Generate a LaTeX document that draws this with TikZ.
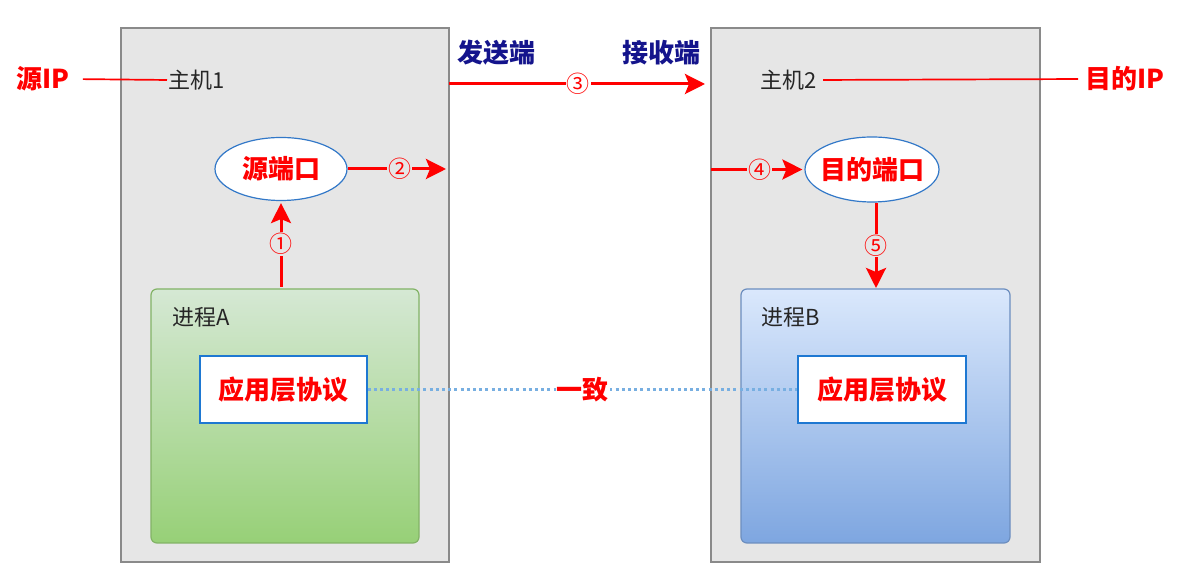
\documentclass[tikz,border=0pt]{standalone}
\usepackage{fontspec}
\setmainfont{Noto Sans CJK SC}
\usetikzlibrary{shapes.geometric,arrows.meta}

\definecolor{hostfill}{HTML}{E6E6E6}
\definecolor{hostdraw}{HTML}{8A8A8A}
\definecolor{navytext}{RGB}{20,20,140}
\definecolor{portdraw}{RGB}{50,120,200}
\definecolor{protodraw}{RGB}{30,120,210}
\definecolor{greentop}{HTML}{D5E8D4}
\definecolor{greenbot}{HTML}{97D077}
\definecolor{greendraw}{HTML}{82B366}
\definecolor{bluetop}{HTML}{DAE8FC}
\definecolor{bluebot}{HTML}{7EA6E0}
\definecolor{bluedraw}{HTML}{6C8EBF}
\definecolor{dotline}{RGB}{120,175,225}

\tikzset{
  hostbox/.style={draw=hostdraw, fill=hostfill, line width=0.6pt, inner sep=0pt},
  procbox/.style={rounded corners=3pt, line width=0.6pt, inner sep=0pt},
  protobox/.style={draw=protodraw, fill=white, line width=0.6pt, inner sep=0pt,
    text=red, font=\bfseries\fontsize{13}{15}\selectfont},
  portnode/.style={ellipse, draw=portdraw, fill=white, line width=0.6pt,
    inner xsep=-5pt, inner ysep=0pt,
    text=red, font=\bfseries\fontsize{13}{15}\selectfont},
  plain/.style={font=\fontsize{11}{12}\selectfont, text=black!85, inner sep=0pt},
  redlabel/.style={font=\bfseries\fontsize{13}{15}\selectfont, text=red, inner sep=0pt},
  navylabel/.style={font=\bfseries\fontsize{13}{15}\selectfont, text=navytext, inner sep=0pt},
  flow/.style={draw=red, line width=1.5pt, -{Stealth[length=10pt, width=10pt, inset=2pt]}},
  iplink/.style={draw=red, line width=0.85pt},
  stepnum/.style={font=\fontsize{11.5}{12}\selectfont, text=red, inner sep=0.5pt},
  samedots/.style={draw=dotline, line width=1.2pt, dash pattern=on 1.5pt off 1.6pt},
}

\begin{document}
\begin{tikzpicture}[x=0.5pt, y=-0.5pt]
\useasboundingbox (0,0) rectangle (1179,576);

% the two hosts
\node[hostbox, minimum width=164pt, minimum height=267pt] (h1) at (285,295) {};
\node[hostbox, minimum width=164.5pt, minimum height=267pt] (h2) at (875.5,295) {};

% processes with their gradient fills
\node[procbox, draw=greendraw, top color=greentop, bottom color=greenbot,
      minimum width=134pt, minimum height=127pt] (pa) at (285,416) {};
\node[procbox, draw=bluedraw, top color=bluetop, bottom color=bluebot,
      minimum width=134.5pt, minimum height=127pt] (pb) at (875.5,416) {};

\node[plain, anchor=west] (pal) at (172,317) {进程A};
\node[plain, anchor=west] (pbl) at (761,317) {进程B};

% application layer protocol boxes
\node[protobox, minimum width=83.5pt, minimum height=33.5pt] (proa) at (283.5,389.5) {应用层协议};
\node[protobox, minimum width=84pt, minimum height=33.5pt] (prob) at (882,389.5) {应用层协议};

% ports
\node[portnode, minimum width=66pt, minimum height=31.5pt] (sp) at (281,169) {源端口};
\node[portnode, minimum width=67pt, minimum height=32.5pt] (dp) at (872,169.5) {目的端口};

% host names and addresses
\node[plain, anchor=west] (h1l) at (168,80) {主机1};
\node[plain, anchor=west] (h2l) at (760,80) {主机2};
\node[redlabel] (sip) at (43,79) {源IP};
\node[redlabel] (dip) at (1125,79) {目的IP};
\draw[iplink, shorten <=6.5pt, shorten >=0.5pt] (sip.east) -- (h1l.west);
\draw[iplink, shorten <=3pt, shorten >=3.5pt] (h2l.east) -- (dip.west);

% sender / receiver
\node[navylabel] (snd) at (496,53) {发送端};
\node[navylabel] (rcv) at (661,53) {接收端};

% numbered flow
\coordinate (a1s) at (281,287);
\draw[flow, shorten >=1pt] (a1s) -- node[stepnum, fill=hostfill] {①} (sp.south);

\coordinate (a2e) at (446,169);
\draw[flow] (sp.east) -- node[stepnum, fill=hostfill, pos=0.53] {②} (a2e);

\coordinate (a3s) at (449,84);
\coordinate (a3e) at (705,84);
\draw[flow] (a3s) -- node[stepnum, fill=white, pos=0.505] {③} (a3e);

\coordinate (a4s) at (711,169.5);
\draw[flow, shorten >=1pt] (a4s) -- node[stepnum, fill=hostfill, pos=0.52] {④} (dp.west);

\coordinate (a5s) at (876,203);
\coordinate (a5e) at (876,288);
\draw[flow] (a5s) -- node[stepnum, fill=hostfill, pos=0.5] {⑤} (a5e);

% protocols agree
\draw[samedots] (proa.east) -- node[redlabel, fill=white, inner xsep=0.5pt, inner ysep=2pt] {一致} (prob.west);
\end{tikzpicture}
\end{document}
